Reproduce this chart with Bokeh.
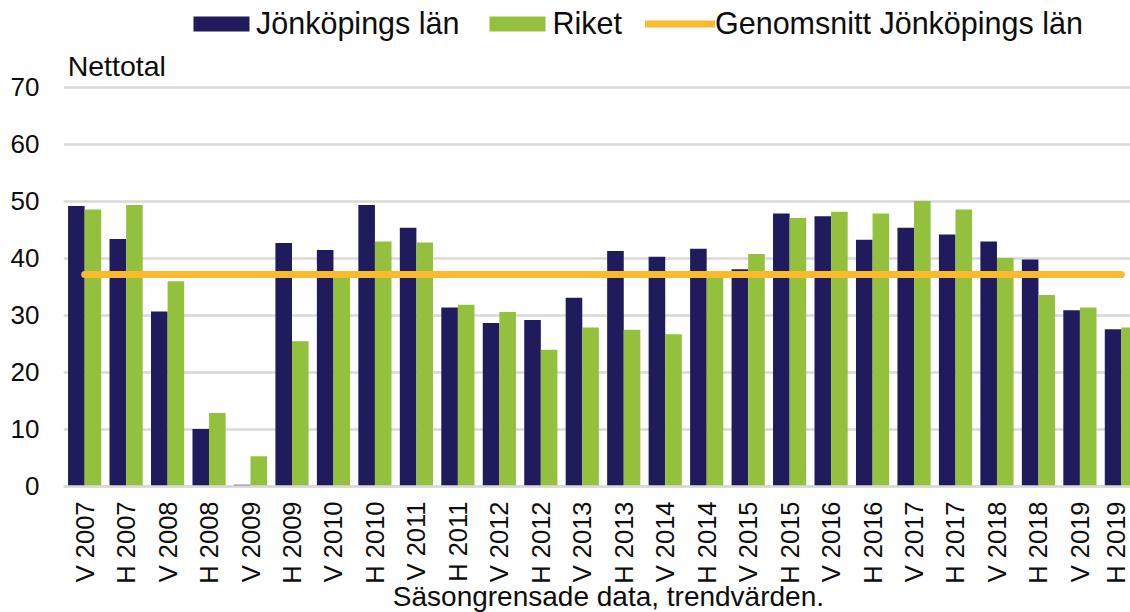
import math
from bokeh.plotting import figure
from bokeh.models import (ColumnDataSource, Range1d, FixedTicker, Legend, LegendItem,
                          Label)
from bokeh.embed import file_html
from bokeh.resources import INLINE

# ---------------- data ----------------
categories = ["V 2007", "H 2007", "V 2008", "H 2008", "V 2009", "H 2009",
              "V 2010", "H 2010", "V 2011", "H 2011", "V 2012", "H 2012",
              "V 2013", "H 2013", "V 2014", "H 2014", "V 2015", "H 2015",
              "V 2016", "H 2016", "V 2017", "H 2017", "V 2018", "H 2018",
              "V 2019", "H 2019"]
jonkoping = [49.2, 43.4, 30.7, 10.1, 0.3, 42.7, 41.5, 49.4, 45.4, 31.4, 28.7, 29.2,
             33.1, 41.3, 40.3, 41.7, 38.1, 47.9, 47.4, 43.3, 45.4, 44.2, 43.0, 39.8,
             30.9, 27.6]
riket = [48.6, 49.4, 36.0, 12.9, 5.3, 25.5, 36.8, 43.0, 42.8, 31.9, 30.6, 24.0,
         27.9, 27.5, 26.7, 37.3, 40.8, 47.1, 48.2, 47.9, 50.1, 48.6, 40.1, 33.6,
         31.4, 27.9]
genomsnitt = 37.2
y_ticks = [0, 10, 20, 30, 40, 50, 60, 70]

series_names = ["Jönköpings län", "Riket", "Genomsnitt Jönköpings län"]
y_title = "Nettotal"
x_title = "Säsongrensade data, trendvärden."

# ---------------- styling ----------------
NAVY = "#201B5C"
GREEN = "#93C13E"
ORANGE = "#FBB92D"
GRID = "#D9D9D9"
TXT = "#0D0D0D"
FONT = "Liberation Sans"

idx = list(range(len(categories)))
src = ColumnDataSource(dict(
    x=idx,
    xl=[i - 0.2 for i in idx],
    xr=[i + 0.2 for i in idx],
    jkp=jonkoping,
    rik=riket,
))

# The frame spans the whole canvas height; the x axis is pinned at y = 0.
p = figure(width=1130, height=612, output_backend="svg", toolbar_location=None,
           x_range=Range1d(-0.51, 25.22), y_range=Range1d(-22.11, 85.26),
           min_border_left=63, min_border_right=0, min_border_top=0,
           min_border_bottom=0, title=None)
p.outline_line_color = None
p.background_fill_color = "white"
p.border_fill_color = "white"

r1 = p.vbar(x="xl", top="jkp", width=0.4, source=src, fill_color=NAVY, line_color=None)
r2 = p.vbar(x="xr", top="rik", width=0.4, source=src, fill_color=GREEN, line_color=None)
r3 = p.line(x=[idx[0], idx[-1]], y=[genomsnitt, genomsnitt], line_color=ORANGE,
            line_width=7, line_cap="round")

# axes
p.xgrid.grid_line_color = None
p.ygrid.grid_line_color = GRID
p.ygrid.grid_line_width = 2.5
p.yaxis.ticker = FixedTicker(ticks=y_ticks)
p.yaxis.axis_line_color = None
p.yaxis.major_tick_line_color = None
p.yaxis.major_tick_out = 0
p.yaxis.major_tick_in = 0
p.yaxis.minor_tick_line_color = None
p.yaxis.major_label_standoff = 24
p.yaxis.major_label_text_font = FONT
p.yaxis.major_label_text_font_size = "26px"
p.yaxis.major_label_text_color = TXT

p.xaxis.fixed_location = 0
p.xaxis.ticker = FixedTicker(ticks=idx)
p.xaxis.major_label_overrides = {i: c for i, c in zip(idx, categories)}
p.xaxis.major_label_orientation = math.pi / 2
p.xaxis.axis_line_color = GRID
p.xaxis.axis_line_width = 2.5
p.xaxis.major_tick_line_color = None
p.xaxis.major_tick_out = 0
p.xaxis.major_tick_in = 0
p.xaxis.minor_tick_line_color = None
p.xaxis.major_label_standoff = 15
p.xaxis.major_label_text_font = FONT
p.xaxis.major_label_text_font_size = "25.5px"
p.xaxis.major_label_text_color = TXT

# caption under the category labels
p.add_layout(Label(x=12.63, y=-19.3, text=x_title, text_align="center",
                   text_baseline="alphabetic", text_font=FONT,
                   text_font_size="28px", text_color=TXT))

# "Nettotal" above the 70 gridline
p.add_layout(Label(x=-0.41, y=73.85, text=y_title, text_align="left",
                   text_baseline="alphabetic", text_font=FONT,
                   text_font_size="28.5px", text_color=TXT))

legend = Legend(items=[LegendItem(label=series_names[0], renderers=[r1]),
                       LegendItem(label=series_names[1], renderers=[r2]),
                       LegendItem(label=series_names[2], renderers=[r3])],
                orientation="horizontal", location=(123, 571),
                glyph_width=70, glyph_height=19, label_standoff=0, spacing=23,
                padding=0, margin=0, border_line_color=None,
                background_fill_alpha=0, label_text_font=FONT,
                label_text_font_size="30.5px", label_text_color=TXT)
p.add_layout(legend, "center")

open("out.html", "w").write(file_html(p, INLINE))
